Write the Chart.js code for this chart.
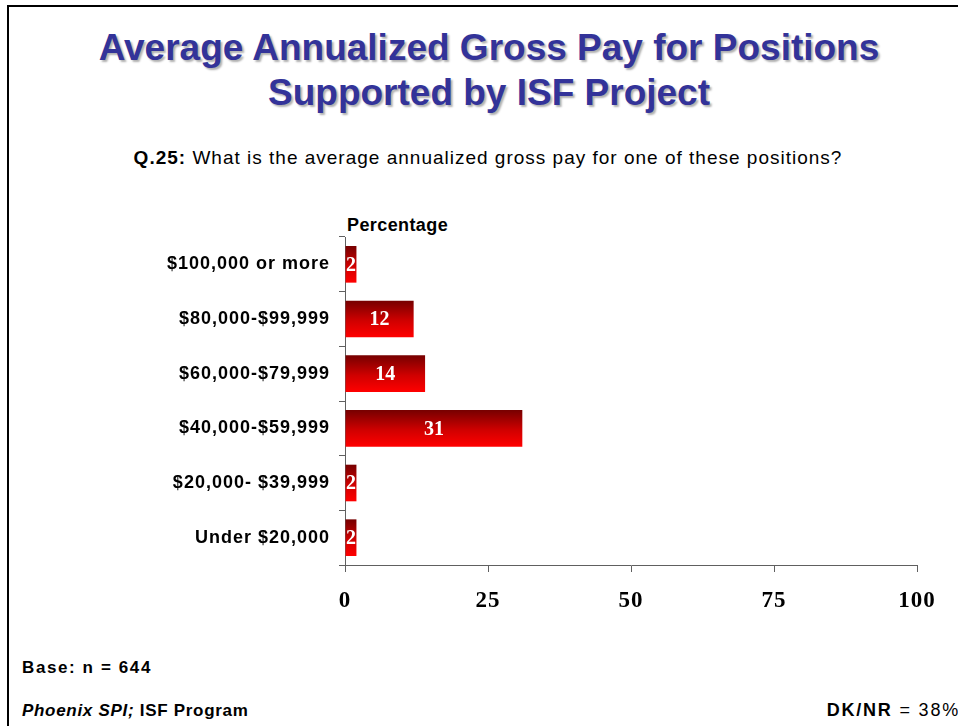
<!DOCTYPE html>
<html>
<head>
<meta charset="utf-8">
<script src="https://cdn.jsdelivr.net/npm/chart.js@4.4.1/dist/chart.umd.min.js"></script>
<style>
  html, body { margin: 0; padding: 0; background: #fff; }
  body { width: 958px; height: 726px; position: relative; overflow: hidden; font-family: "Liberation Sans", Arial, sans-serif; }
  #frame { position: absolute; left: 7px; top: 5px; width: 960px; height: 740px; border-left: 2px solid #000; border-top: 2px solid #000; }
  .t { position: absolute; white-space: nowrap; }
  #title { left: 0; width: 978px; text-align: center; top: 25px; font-size: 37px; line-height: 45px; font-weight: bold; color: #333399; text-shadow: 2px 2px 2px #b0b0b0; }
  #sub { left: 0; width: 976px; text-align: center; top: 146px; font-size: 19px; line-height: 24px; letter-spacing: 1px; color: #000; }
  #pct { left: 347px; top: 213px; font-size: 18px; line-height: 24px; font-weight: bold; letter-spacing: 0.4px; }
  #base { left: 22px; top: 656px; font-size: 17px; line-height: 24px; font-weight: bold; letter-spacing: 1.6px; }
  #src { left: 22px; top: 699px; font-size: 17px; line-height: 24px; font-weight: bold; letter-spacing: 0.7px; }
  #dk { right: -2px; top: 698px; font-size: 18px; line-height: 24px; letter-spacing: 1.8px; }
  #c { position: absolute; left: 0; top: 0; }
</style>
</head>
<body>
<div id="frame"></div>
<div class="t" id="title">Average Annualized Gross Pay for Positions<br>Supported by ISF Project</div>
<div class="t" id="sub"><b>Q.25:</b> What is the average annualized gross pay for one of these positions?</div>
<div class="t" id="pct">Percentage</div>
<div class="t" id="base">Base: n = 644</div>
<div class="t" id="src"><i>Phoenix SPI;</i> ISF Program</div>
<div class="t" id="dk"><b>DK/NR</b> = 38%</div>
<canvas id="c" width="958" height="726"></canvas>
<script>
const categories = ["$100,000 or more", "$80,000-$99,999", "$60,000-$79,999", "$40,000-$59,999", "$20,000- $39,999", "Under $20,000"];
const percentages = [2, 12, 14, 31, 2, 2];
const xTicks = [0, 25, 50, 75, 100];

const BAR_FRAC = 0.67;

const spacingPlugin = {
  id: 'spacing',
  beforeDraw(chart) { chart.ctx.letterSpacing = '0px'; },
  beforeDatasetsDraw(chart) { chart.ctx.letterSpacing = '0px'; }
};

const yLabelSpacing = {
  id: 'ySpacing',
  beforeDraw(chart) { chart.ctx.letterSpacing = '1px'; }
};

const labelPlugin = {
  id: 'barLabels',
  afterDatasetsDraw(chart) {
    const ctx = chart.ctx;
    const meta = chart.getDatasetMeta(0);
    ctx.save();
    ctx.letterSpacing = '0px';
    ctx.fillStyle = '#ffffff';
    ctx.font = 'bold 20px "Liberation Serif", "Times New Roman", serif';
    ctx.textAlign = 'center';
    ctx.textBaseline = 'middle';
    meta.data.forEach((el, i) => {
      const cx = (el.x + el.base) / 2;
      ctx.fillText(String(percentages[i]), cx, el.y + 1);
    });
    ctx.restore();
  }
};

new Chart(document.getElementById('c'), {
  type: 'bar',
  data: {
    labels: categories,
    datasets: [{
      data: percentages,
      categoryPercentage: BAR_FRAC,
      barPercentage: 1,
      borderWidth: 0,
      backgroundColor(context) {
        const chart = context.chart;
        const ys = chart.scales && chart.scales.y;
        if (context.dataIndex === undefined || !ys) return '#c00000';
        const c = ys.getPixelForValue(context.dataIndex);
        const h = (ys.height / categories.length) * BAR_FRAC / 2;
        if (!isFinite(c) || !isFinite(h) || h <= 0) return '#c00000';
        const g = chart.ctx.createLinearGradient(0, c - h, 0, c + h);
        g.addColorStop(0, '#760000');
        g.addColorStop(0.55, '#d00000');
        g.addColorStop(1, '#ff0000');
        return g;
      }
    }]
  },
  options: {
    indexAxis: 'y',
    responsive: false,
    animation: false,
    devicePixelRatio: 1,
    layout: { padding: { left: 145, right: 41, top: 237, bottom: 111 } },
    plugins: { legend: { display: false }, tooltip: { enabled: false }, title: { display: false } },
    scales: {
      x: {
        min: 0, max: 100,
        afterFit(scale) { scale.height = 50; },
        afterBuildTicks(scale) { scale.ticks = xTicks.map(v => ({ value: v })); },
        border: { display: true, color: '#606060', width: 1 },
        grid: { drawOnChartArea: false, drawTicks: true, tickLength: 7, color: '#606060' },
        ticks: { color: '#000', font: { family: '"Liberation Serif", "Times New Roman", serif', size: 23, weight: 'bold' }, padding: 15, maxRotation: 0 }
      },
      y: {
        afterFit(scale) { scale.width = 200; },
        border: { display: true, color: '#606060', width: 1 },
        grid: { drawOnChartArea: false, drawTicks: true, tickLength: 6, color: '#606060', offset: true },
        ticks: { color: '#000', font: { family: '"Liberation Sans", Arial, sans-serif', size: 18, weight: 'bold' }, padding: 9 }
      }
    }
  },
  plugins: [spacingPlugin, yLabelSpacing, labelPlugin]
});
</script>
</body>
</html>
